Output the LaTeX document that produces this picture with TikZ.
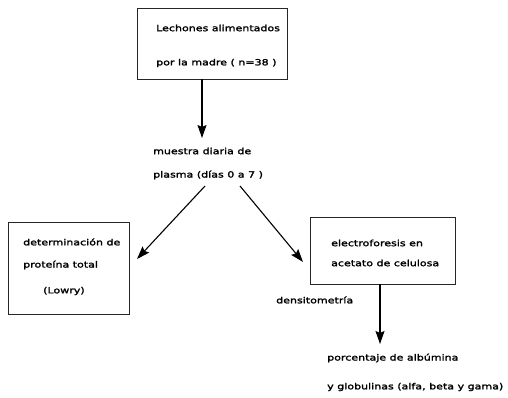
\documentclass[tikz,border=0pt]{standalone}
\usepackage{fontspec}
\setmainfont[FakeStretch=1.3,FakeBold=2]{DejaVu Sans}
\usetikzlibrary{arrows.meta}
\begin{document}
\begin{tikzpicture}[x=1pt,y=-1pt,
  box/.style={draw=black!85,line width=0.8pt},
  lbl/.style={anchor=west,inner sep=0pt,font=\fontsize{8.5}{10}\selectfont},
  arr/.style={draw=black,line width=1.1pt,-{Stealth[length=13pt,width=9pt,inset=2pt]}}]
\useasboundingbox (0,0) rectangle (508,398);
% boxes
\draw[box] (137,8) rectangle (287,79);
\node[inner sep=0pt,minimum width=150pt,minimum height=71pt] (top) at (212,43.5) {};
\draw[box] (8,222) rectangle (129,314);
\node[inner sep=0pt,minimum width=121pt,minimum height=92pt] (left) at (68.5,268) {};
\draw[box] (310,217) rectangle (455,284);
\node[inner sep=0pt,minimum width=145pt,minimum height=67pt] (right) at (382.5,250.5) {};
% texts
\node[lbl] (t1) at (156,28) {Lechones alimentados};
\node[lbl] (t2) at (156,63) {por la madre ( n=38 )};
\node[lbl] (m1) at (153,151) {muestra diaria de};
\node[lbl] (m2) at (153,175) {plasma (días 0 a 7 )};
\node[lbl] (l1) at (23,242) {determinación de};
\node[lbl] (l2) at (23,265) {proteína total};
\node[lbl] (l3) at (43,291) {(Lowry)};
\node[lbl] (r1) at (331,243) {electroforesis en};
\node[lbl] (r2) at (331,263) {acetato de celulosa};
\node[lbl] (d) at (276,300) {densitometría};
\node[lbl] (p1) at (327,358) {porcentaje de albúmina};
\node[lbl] (p2) at (327,387) {y globulinas (alfa, beta y gama)};
% arrows
\coordinate (a0) at (202,79);
\coordinate (a1) at (202,138);
\coordinate (b0) at (205,186);
\coordinate (b1) at (137,259);
\coordinate (c0) at (240,186);
\coordinate (c1) at (303,262);
\coordinate (d0) at (380,284);
\coordinate (d1) at (380,344);
\draw[arr] (a0) -- (a1);
\draw[arr] (b0) -- (b1);
\draw[arr] (c0) -- (c1);
\draw[arr] (d0) -- (d1);
\end{tikzpicture}
\end{document}
